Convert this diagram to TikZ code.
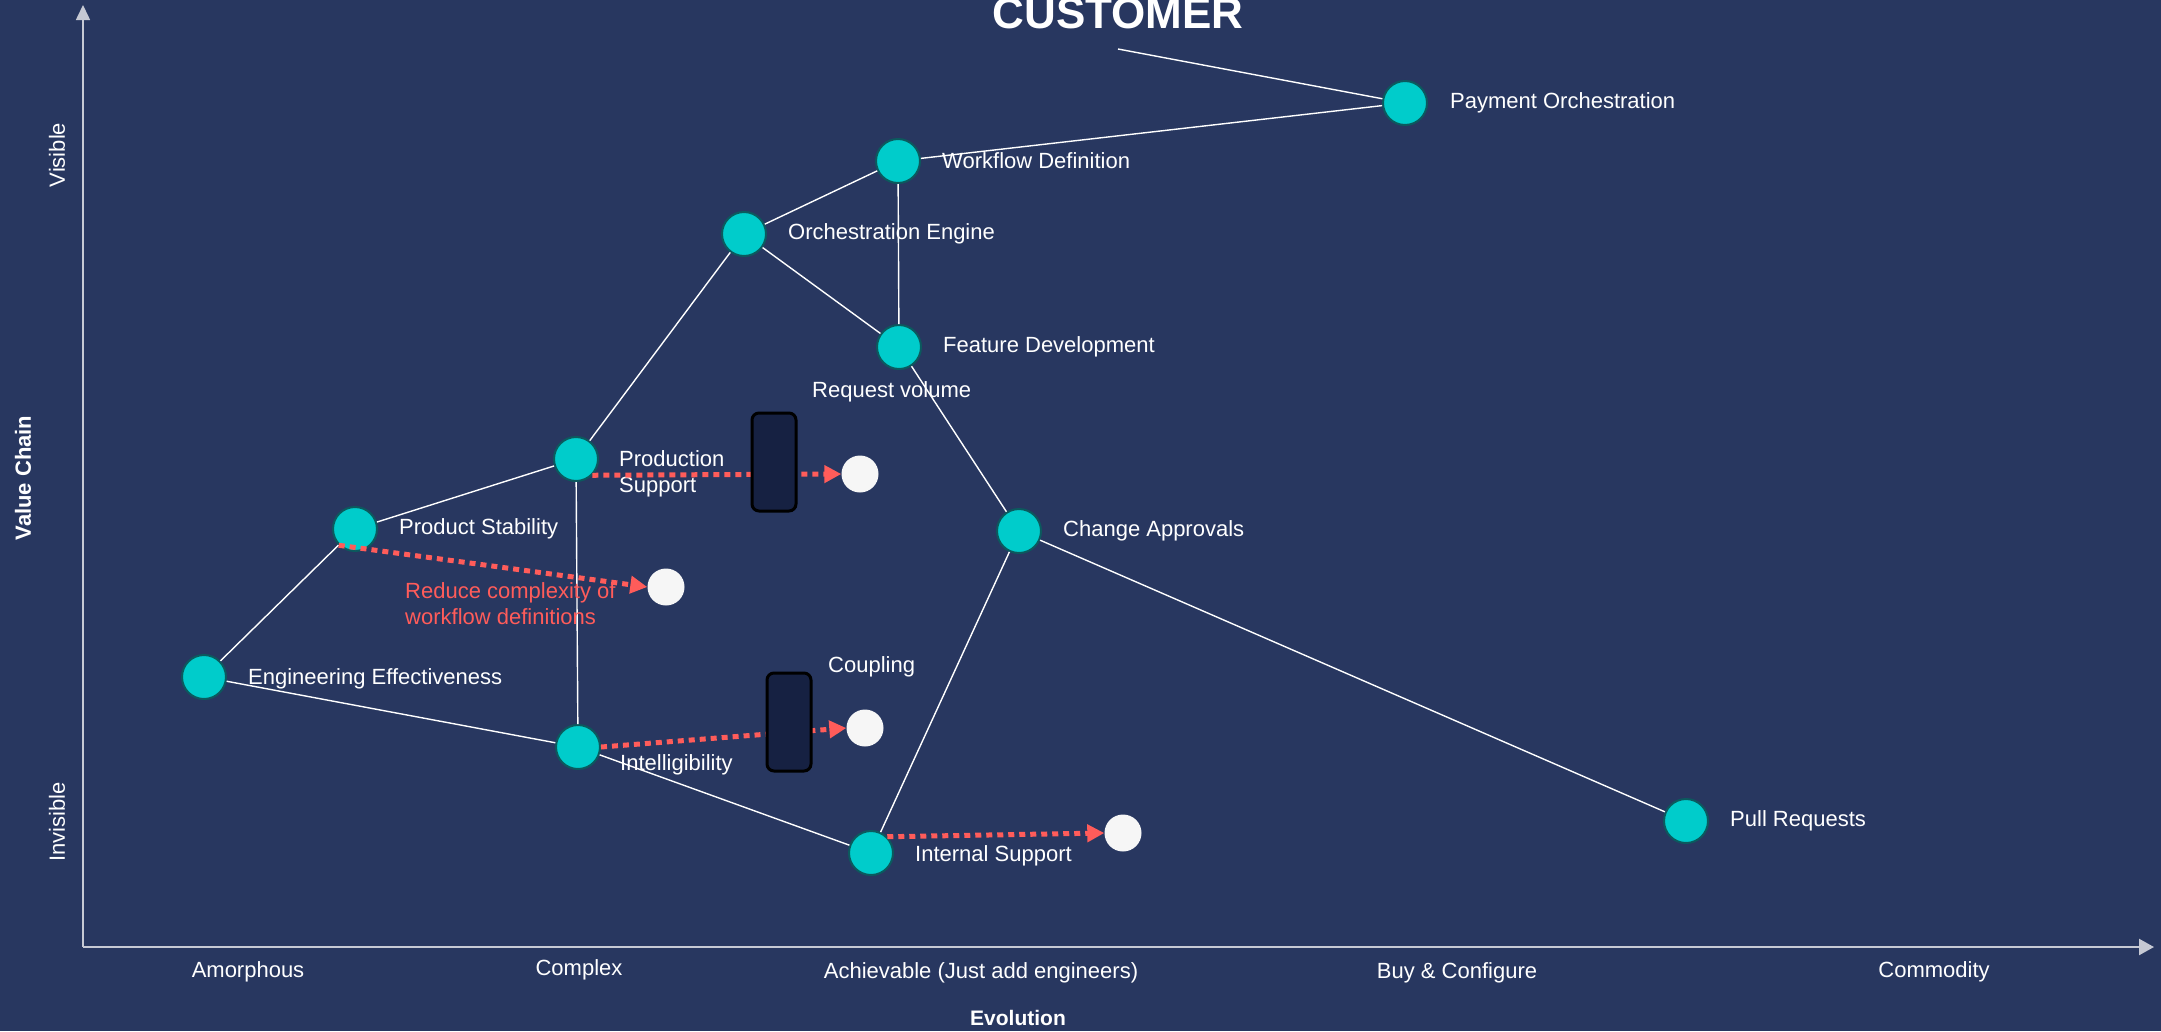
\documentclass[tikz,border=0pt]{standalone}
\usepackage{fontspec}
\setmainfont{Liberation Sans}
\usetikzlibrary{arrows.meta}
\definecolor{mapbg}{HTML}{283760}
\definecolor{compfill}{HTML}{00CCCB}
\definecolor{comprim}{HTML}{0B5A5E}
\definecolor{flowred}{HTML}{FF5C5A}
\definecolor{inertiafill}{HTML}{162142}
\definecolor{axisgrey}{HTML}{C6C9D4}
\definecolor{goalwhite}{HTML}{F6F6F6}
\tikzset{
  comp/.style={circle,fill=compfill,draw=comprim,line width=2pt,minimum size=44pt,inner sep=0pt},
  goal/.style={circle,fill=goalwhite,minimum size=37pt,inner sep=0pt},
  lbl/.style={text=white,anchor=west,align=left,inner sep=0pt},
  axlbl/.style={text=white,inner sep=0pt},
  inertia/.style={rounded corners=7pt,fill=inertiafill,draw=black,line width=3pt,minimum width=44pt,minimum height=98pt,inner sep=0pt},
  link/.style={white,line width=1.4pt},
  move/.style={flowred,line width=5pt,dash pattern=on 6pt off 5pt,-{Triangle[length=17pt,width=17pt]}}
}

\begin{document}
\begin{tikzpicture}[x=1pt,y=-1pt,font=\fontsize{22}{26}\selectfont]
\useasboundingbox (0,0) rectangle (2161,1031);
\fill[mapbg] (0,0) rectangle (2161,1031);

% axes
\coordinate (origin) at (83,947);
\coordinate (xtip) at (2154,947);
\coordinate (ytip) at (83,5);
\draw[axisgrey,line width=1.6pt,-{Triangle[length=15pt,width=14pt]}] (origin) -- (ytip);
\draw[axisgrey,line width=2.4pt,-{Triangle[length=15pt,width=16pt]}] (origin) -- (xtip);
\node[axlbl,rotate=90] (vis) at (57,155) {Visible};
\node[axlbl,rotate=90] (invis) at (57,822) {Invisible};
\node[axlbl,rotate=90,font=\bfseries\fontsize{22}{26}\selectfont] (vchain) at (23,478) {Value Chain};
\node[axlbl] (amor) at (248,972) {Amorphous};
\node[axlbl] (cplx) at (579,970) {Complex};
\node[axlbl] (achv) at (981,973) {Achievable (Just add engineers)};
\node[axlbl] (buy) at (1457,973) {Buy \& Configure};
\node[axlbl] (cmdty) at (1934,972) {Commodity};
\node[axlbl,font=\bfseries\fontsize{21}{26}\selectfont] (evo) at (1018,1018) {Evolution};

% customer
\node[axlbl,anchor=base,font=\bfseries\fontsize{44}{44}\selectfont] (cust) at (1118,28) {CUSTOMER};
\coordinate (custend) at (1118,49);

% components
\node[comp] (pay) at (1405,103) {};
\node[comp] (wfd) at (898,161) {};
\node[comp] (orch) at (744,234) {};
\node[comp] (feat) at (899,347) {};
\node[comp] (prod) at (576,459) {};
\node[comp] (stab) at (355,529) {};
\node[comp] (chg) at (1019,531) {};
\node[comp] (eng) at (204,677) {};
\node[comp] (intel) at (578,747) {};
\node[comp] (ints) at (871,853) {};
\node[comp] (pr) at (1686,821) {};

\node[lbl] (payl) at (1450,103) {Payment Orchestration};
\node[lbl] (wfdl) at (942,161) {Workflow Definition};
\node[lbl] (orchl) at (788,234) {Orchestration Engine};
\node[lbl] (featl) at (943,347) {Feature Development};
\node[lbl] (prodl) at (619,474) {Production\\Support};
\node[lbl] (stabl) at (399,529) {Product Stability};
\node[lbl] (chgl) at (1063,531) {Change Approvals};
\node[lbl] (engl) at (248,679) {Engineering Effectiveness};
\node[lbl] (intell) at (620,765) {Intelligibility};
\node[lbl] (intsl) at (915,856) {Internal Support};
\node[lbl] (prl) at (1730,821) {Pull Requests};

\path[link]
(custend) edge (pay)
(pay) edge (wfd)
(wfd) edge (orch)
(wfd) edge (feat)
(orch) edge (feat)
(orch) edge (prod)
(feat) edge (chg)
(prod) edge (stab)
(prod) edge (intel)
(stab) edge (eng)
(eng) edge (intel)
(intel) edge (ints)
(ints) edge (chg)
(chg) edge (pr);

% movement
\node[goal] (g1) at (860,474) {};
\node[goal] (g2) at (666,587) {};
\node[goal] (g3) at (865,728) {};
\node[goal] (g4) at (1123,833) {};
\draw[move] (prod.-45) -- (g1.west);
\draw[move] (stab.-135) -- (g2.west);
\draw[move] (intel.east) -- (g3.west);
\draw[move] (ints.45) -- (g4.west);
\node[lbl,text=flowred] (redl) at (405,604) {Reduce complexity of\\workflow definitions};

% inertia
\node[inertia] (in1) at (774,462) {};
\node[inertia] (in2) at (789,722) {};
\node[lbl] (reqv) at (812,392) {Request volume};
\node[lbl] (coup) at (828,667) {Coupling};
\end{tikzpicture}
\end{document}
